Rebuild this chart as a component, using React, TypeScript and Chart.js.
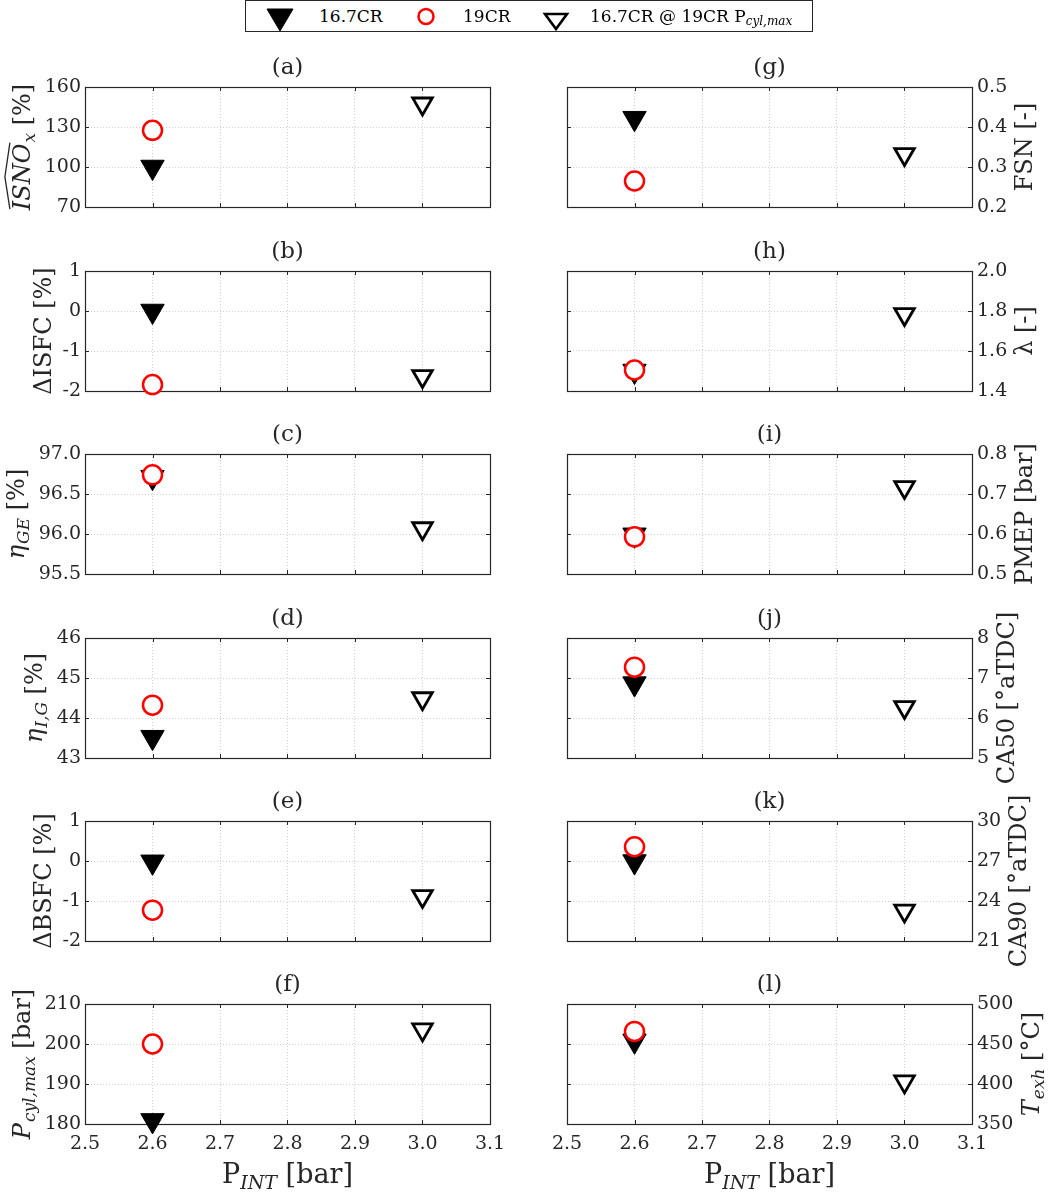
import React, { useEffect, useRef } from 'react';
import { Chart, registerables } from 'chart.js';

Chart.register(...registerables);

type Seg = { t: string; it?: boolean; sub?: boolean; hat?: boolean };

// operating points (intake pressure, bar)
const xBase = [2.6];
const xMatched = [3.0];
const xMin = 2.5;
const xMax = 3.1;
const xStep = 0.1;

// panels (a)..(f) left column, (g)..(l) right column
const panelTags = ['(a)', '(b)', '(c)', '(d)', '(e)', '(f)', '(g)', '(h)', '(i)', '(j)', '(k)', '(l)'];
const cr167 = [100, 0, 96.71, 43.52, -0.02, 180.9, 0.422, 1.5, 0.598, 6.86, 26.96, 454];
const cr19 = [127.5, -1.84, 96.74, 44.32, -1.23, 200, 0.265, 1.505, 0.593, 7.27, 28.07, 465.7];
const cr167AtPmax = [147.5, -1.63, 96.07, 44.49, -0.88, 203.6, 0.332, 1.784, 0.717, 6.27, 23.27, 403];
const yMin = [70, -2, 95.5, 43, -2, 180, 0.2, 1.4, 0.5, 5, 21, 350];
const yMax = [160, 1, 97, 46, 1, 210, 0.5, 2.0, 0.8, 8, 30, 500];
const yStep = [30, 1, 0.5, 1, 1, 10, 0.1, 0.2, 0.1, 1, 3, 50];
const yDecimals = [0, 0, 1, 0, 0, 0, 1, 1, 1, 0, 0, 0];

const yLabels: Seg[][] = [
    [{ t: 'ISNO', it: true, hat: true }, { t: 'x', it: true, sub: true }, { t: ' [%]' }],
    [{ t: 'ΔISFC [%]' }],
    [{ t: 'η', it: true }, { t: 'GE', it: true, sub: true }, { t: ' [%]' }],
    [{ t: 'η', it: true }, { t: 'I,G', it: true, sub: true }, { t: ' [%]' }],
    [{ t: 'ΔBSFC [%]' }],
    [{ t: 'P', it: true }, { t: 'cyl,max', it: true, sub: true }, { t: ' [bar]' }],
    [{ t: 'FSN [-]' }],
    [{ t: 'λ [-]' }],
    [{ t: 'PMEP [bar]' }],
    [{ t: 'CA50 [°aTDC]' }],
    [{ t: 'CA90 [°aTDC]' }],
    [{ t: 'T', it: true }, { t: 'exh', it: true, sub: true }, { t: ' [°C]' }],
];
const xLabel: Seg[] = [{ t: 'P' }, { t: 'INT', it: true, sub: true }, { t: ' [bar]' }];

const SERIF = '"DejaVu Serif", serif';
const INK = '#262626';
const TICK_SIZE = 19;
const ROW_TOPS = [87, 270.7, 454, 637.7, 821, 1004];
const PLOT_H = 120;
const PAD_TOP = 60;

function fontOf(s: Seg, size: number) {
    return `${s.it ? 'italic ' : ''}${s.sub ? Math.round(size * 0.7) : size}px ${SERIF}`;
}

function richWidth(ctx: CanvasRenderingContext2D, segs: Seg[], size: number) {
    let w = 0;
    for (const s of segs) {
        ctx.font = fontOf(s, size);
        w += ctx.measureText(s.t).width + (s.it && !s.sub ? 1 : 0);
    }
    return w;
}

function drawRich(ctx: CanvasRenderingContext2D, segs: Seg[], size: number, x: number, y: number) {
    let cx = x;
    for (const s of segs) {
        ctx.font = fontOf(s, size);
        const w = ctx.measureText(s.t).width;
        ctx.fillText(s.t, cx, s.sub ? y + size * 0.22 : y);
        if (s.hat) {
            const h = y - size * 0.78;
            ctx.beginPath();
            ctx.moveTo(cx + 1, h - 1);
            ctx.lineTo(cx + w / 2, h - 6);
            ctx.lineTo(cx + w + 1, h - 1);
            ctx.lineWidth = 1.3;
            ctx.stroke();
        }
        cx += w + (s.it && !s.sub ? 1 : 0);
    }
}

function decor(idx: number, right: boolean, bottom: boolean) {
    return {
        id: 'decor' + idx,
        beforeDatasetsDraw(chart: Chart) {
            const { ctx, chartArea } = chart;
            const { left, right: r, top, bottom: b } = chartArea;
            const xs = chart.scales.x;
            const ys = chart.scales.y;
            ctx.save();
            ctx.strokeStyle = INK;
            ctx.lineWidth = 1;
            ctx.beginPath();
            xs.ticks.forEach((t) => {
                const px = Math.round(xs.getPixelForValue(t.value)) + 0.5;
                ctx.moveTo(px, b);
                ctx.lineTo(px, b - 4);
                ctx.moveTo(px, top);
                ctx.lineTo(px, top + 4);
            });
            ys.ticks.forEach((t) => {
                const py = Math.round(ys.getPixelForValue(t.value)) + 0.5;
                ctx.moveTo(left, py);
                ctx.lineTo(left + 4, py);
                ctx.moveTo(r, py);
                ctx.lineTo(r - 4, py);
            });
            ctx.stroke();
            ctx.lineWidth = 1.2;
            ctx.strokeRect(Math.round(left) + 0.5, Math.round(top) + 0.5, Math.round(r - left), Math.round(b - top));
            ctx.restore();
        },
        afterDraw(chart: Chart) {
            const { ctx, chartArea } = chart;
            const { left, right: r, top, bottom: b } = chartArea;
            const ys = chart.scales.y;
            ctx.save();
            ctx.fillStyle = INK;
            ctx.strokeStyle = INK;

            // panel tag
            ctx.font = `23px ${SERIF}`;
            ctx.textAlign = 'center';
            ctx.textBaseline = 'middle';
            ctx.fillText(panelTags[idx], (left + r) / 2, top - 19);

            // y-axis title
            ctx.textAlign = 'left';
            ctx.textBaseline = 'alphabetic';
            ctx.font = `${TICK_SIZE}px ${SERIF}`;
            const maxW = Math.max(...ys.ticks.map((t) => ctx.measureText(String(t.label)).width));
            const segs = yLabels[idx];
            const size = 24;
            const w = richWidth(ctx, segs, size);
            const cy = (top + b) / 2;
            const hasSub = segs.some((s) => s.sub);
            ctx.save();
            if (!right) {
                const edge = left - 4 - maxW - 6;
                const descent = size * 0.22 + (hasSub ? size * 0.16 : 0);
                ctx.translate(edge, cy);
                ctx.rotate(-Math.PI / 2);
                drawRich(ctx, segs, size, -w / 2, -descent);
            } else {
                const edge = r + 5 + maxW + 7;
                ctx.translate(edge, cy);
                ctx.rotate(-Math.PI / 2);
                drawRich(ctx, segs, size, -w / 2, size * 0.76);
            }
            ctx.restore();

            // x-axis title on the bottom row only
            if (bottom) {
                const xs = 27;
                const xw = richWidth(ctx, xLabel, xs);
                drawRich(ctx, xLabel, xs, (left + r) / 2 - xw / 2, b + 59);
            }
            ctx.restore();
        },
    };
}

const Panel: React.FC<{ idx: number }> = ({ idx }) => {
    const chartRef = useRef<HTMLCanvasElement>(null);
    const right = idx >= 6;
    const row = idx % 6;
    const bottom = row === 5;
    const bottomSpace = bottom ? 68 : 40;

    useEffect(() => {
        if (!chartRef.current) return;
        const chart = new Chart(chartRef.current, {
            type: 'scatter',
            data: {
                datasets: [
                    {
                        label: '16.7CR',
                        data: xBase.map((x) => ({ x, y: cr167[idx] })),
                        pointStyle: 'triangle',
                        pointRotation: 180,
                        pointRadius: 13.5,
                        pointBackgroundColor: '#000',
                        pointBorderColor: '#000',
                        pointBorderWidth: 1,
                        order: 3,
                        clip: false,
                    },
                    {
                        label: '19CR',
                        data: xBase.map((x) => ({ x, y: cr19[idx] })),
                        pointStyle: 'circle',
                        pointRadius: 9.5,
                        pointBackgroundColor: '#ffffff',
                        pointBorderColor: '#ff0000',
                        pointBorderWidth: 2.5,
                        order: 1,
                        clip: false,
                    },
                    {
                        label: '16.7CR @ 19CR Pcyl,max',
                        data: xMatched.map((x) => ({ x, y: cr167AtPmax[idx] })),
                        pointStyle: 'triangle',
                        pointRotation: 180,
                        pointRadius: 11.3,
                        pointBackgroundColor: '#ffffff',
                        pointBorderColor: '#000',
                        pointBorderWidth: 2.8,
                        order: 2,
                        clip: false,
                    },
                ] as any,
            },
            options: {
                animation: false,
                responsive: true,
                maintainAspectRatio: false,
                events: [],
                layout: {
                    autoPadding: false,
                    padding: { top: PAD_TOP, bottom: 0, left: right ? 41 : 0, right: right ? 0 : 36 },
                },
                scales: {
                    x: {
                        type: 'linear',
                        min: xMin,
                        max: xMax,
                        afterFit: (s: any) => {
                            s.height = bottomSpace;
                        },
                        grid: { color: 'rgba(38,38,38,0.22)', lineWidth: 1, drawTicks: false },
                        border: { display: false, dash: [1, 2] },
                        ticks: {
                            display: bottom,
                            stepSize: xStep,
                            padding: 9,
                            color: INK,
                            font: { family: SERIF, size: TICK_SIZE },
                            callback: (v: any) => Number(v).toFixed(1),
                        },
                    },
                    y: {
                        type: 'linear',
                        position: right ? 'right' : 'left',
                        min: yMin[idx],
                        max: yMax[idx],
                        afterFit: (s: any) => {
                            s.width = right ? 80 : 85;
                        },
                        grid: { color: 'rgba(38,38,38,0.22)', lineWidth: 1, drawTicks: false },
                        border: { display: false, dash: [1, 2] },
                        ticks: {
                            stepSize: yStep[idx],
                            padding: right ? 5 : 4,
                            color: INK,
                            font: { family: SERIF, size: TICK_SIZE },
                            callback: (v: any) => Number(v).toFixed(yDecimals[idx]),
                        },
                    },
                },
                plugins: {
                    legend: { display: false },
                    title: { display: false },
                    tooltip: { enabled: false },
                },
            },
            plugins: [decor(idx, right, bottom)],
        });

        return () => {
            chart.destroy();
        };
    }, [idx]);

    return (
        <div
            style={{
                position: 'absolute',
                left: right ? 526 : 0,
                top: ROW_TOPS[row] - PAD_TOP,
                width: 526,
                height: PAD_TOP + PLOT_H + bottomSpace,
            }}
        >
            <canvas ref={chartRef}></canvas>
        </div>
    );
};

const Legend: React.FC = () => {
    const text: React.CSSProperties = {
        position: 'absolute',
        top: 0,
        lineHeight: '30px',
        fontSize: 17,
        color: '#000',
        whiteSpace: 'nowrap',
    };
    return (
        <div
            style={{
                position: 'absolute',
                left: 245,
                top: 0,
                width: 568,
                height: 32,
                boxSizing: 'border-box',
                border: `1px solid ${INK}`,
                background: '#fff',
                fontFamily: SERIF,
                zIndex: 2,
            }}
        >
            <svg width={566} height={30} style={{ position: 'absolute', left: 0, top: 0 }}>
                <polygon points="21,8 47,8 34,30" fill="#000" stroke="#000" strokeWidth={1} />
                <circle cx={180} cy={15.5} r={7.5} fill="#fff" stroke="#ff0000" strokeWidth={2.5} />
                <polygon points="299,13 321,13 310,28" fill="none" stroke="#000" strokeWidth={2.6} />
            </svg>
            <span style={{ ...text, left: 73 }}>16.7CR</span>
            <span style={{ ...text, left: 217 }}>19CR</span>
            <span style={{ ...text, left: 344 }}>
                16.7CR @ 19CR P<sub style={{ fontStyle: 'italic', fontSize: 12, verticalAlign: '-3px' }}>cyl,max</sub>
            </span>
        </div>
    );
};

const App: React.FC = () => {
    return (
        <div
            style={{
                position: 'absolute',
                left: 0,
                top: 0,
                width: 1052,
                height: 1192,
                background: '#fff',
                fontFamily: SERIF,
                overflow: 'hidden',
            }}
        >
            {panelTags.map((_, i) => (
                <Panel key={i} idx={i} />
            ))}
            <Legend />
        </div>
    );
};

export default App;
